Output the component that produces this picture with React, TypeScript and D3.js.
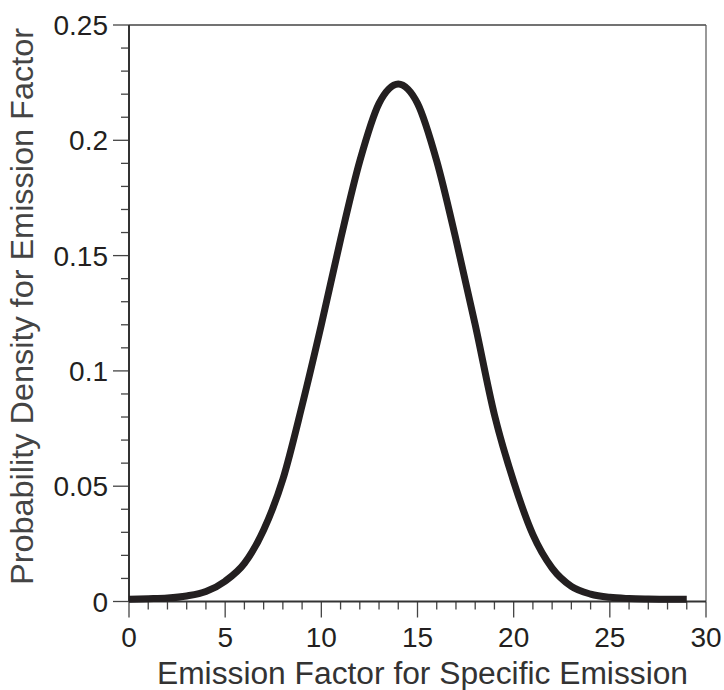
import React from "react";
import * as d3 from "d3";

const xValues = [0, 1, 2, 3, 4, 5, 6, 7, 8, 9, 10, 11, 12, 13, 13.5, 14, 14.5, 15, 16, 17, 18, 19, 20, 21, 22, 23, 24, 25, 26, 27, 28, 29];
const densityValues = [0.001, 0.0012, 0.0015, 0.0024, 0.0043, 0.0088, 0.0165, 0.031, 0.053, 0.085, 0.12, 0.157, 0.191, 0.216, 0.2222, 0.2244, 0.2222, 0.216, 0.191, 0.157, 0.12, 0.081, 0.052, 0.029, 0.0145, 0.0066, 0.0032, 0.0018, 0.0013, 0.0011, 0.001, 0.001];
const xTickLabels = [0, 5, 10, 15, 20, 25, 30];
const yTickLabels = [0, 0.05, 0.1, 0.15, 0.2, 0.25];
const xTitle = "Emission Factor for Specific Emission";
const yTitle = "Probability Density for Emission Factor";

const W = 724;
const H = 690;
const left = 129;
const right = 706;
const top = 25;
const bottom = 601.5;
const FONT = "'Liberation Sans', Arial, Helvetica, sans-serif";
const TEXT = "#231f20";

export default function App() {
  const x = d3.scaleLinear().domain([0, 30]).range([left, right]);
  const y = d3.scaleLinear().domain([0, 0.25]).range([bottom, top]);
  const pts = xValues.map((v, i) => [v, densityValues[i]] as [number, number]);
  const line = d3
    .line<[number, number]>()
    .x((d) => x(d[0]))
    .y((d) => y(d[1]))
    .curve(d3.curveMonotoneX);

  const xMinor = d3.range(0, 31, 1);
  const yMinor = d3.range(0, 26, 1).map((v) => v / 100);

  return (
    <div style={{ position: "absolute", left: 0, top: 0 }}>
      <svg width={W} height={H} style={{ display: "block", background: "#fff" }}>
        <line x1={left} x2={right} y1={top} y2={top} stroke="#444" strokeWidth={1.5} />
        <line x1={right} x2={right} y1={top} y2={bottom} stroke="#555" strokeWidth={1.2} />
        {xMinor.map((v) => (
          <line key={"xm" + v} x1={x(v)} x2={x(v)} y1={bottom} y2={bottom + (v % 5 === 0 ? 16 : 8)} stroke="#444" strokeWidth={1.3} />
        ))}
        {yMinor.map((v, i) => (
          <line key={"ym" + i} x1={left - (i % 5 === 0 ? 16 : 8)} x2={left} y1={y(v)} y2={y(v)} stroke="#444" strokeWidth={1.3} />
        ))}
        <line x1={left} x2={left} y1={top} y2={bottom} stroke="#333" strokeWidth={2} />
        <line x1={left} x2={right} y1={bottom} y2={bottom} stroke="#333" strokeWidth={2} />
        <path d={line(pts) || ""} fill="none" stroke="#231f20" strokeWidth={7} strokeLinejoin="round" />
        {xTickLabels.map((v) => (
          <text key={"xl" + v} x={x(v)} y={647} textAnchor="middle" fontFamily={FONT} fontSize={28} fill={TEXT}>
            {v}
          </text>
        ))}
        {yTickLabels.map((v) => (
          <text key={"yl" + v} x={108} y={y(v)} dy="0.36em" textAnchor="end" fontFamily={FONT} fontSize={28} fill={TEXT}>
            {v}
          </text>
        ))}
        <text x={422.5} y={684} textAnchor="middle" fontFamily={FONT} fontSize={31} fill="#333" textLength={531} lengthAdjust="spacingAndGlyphs">
          {xTitle}
        </text>
        <text transform={`translate(33, 306.5) rotate(-90)`} textAnchor="middle" fontFamily={FONT} fontSize={31} fill="#444" textLength={557} lengthAdjust="spacingAndGlyphs">
          {yTitle}
        </text>
      </svg>
    </div>
  );
}
